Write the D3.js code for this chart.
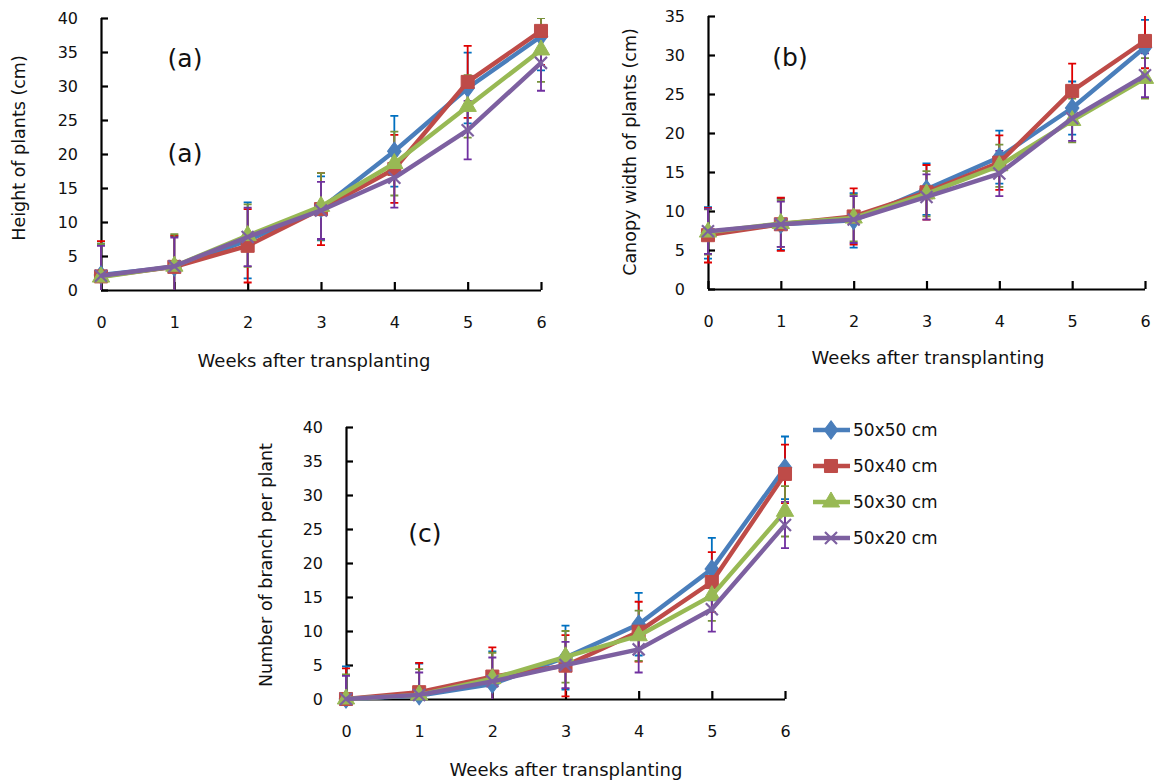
<!DOCTYPE html>
<html>
<head>
<meta charset="utf-8">
<script src="https://cdn.jsdelivr.net/npm/d3@7"></script>
<style>
  body { margin: 0; background: #fff; }
  svg text { font-family: "DejaVu Sans", sans-serif; fill: #111; }
</style>
</head>
<body>
<svg id="chart" width="1154" height="783"></svg>
<script>
const weeks = [0, 1, 2, 3, 4, 5, 6];
const seriesNames = ["50x50 cm", "50x40 cm", "50x30 cm", "50x20 cm"];

// (a) height of plants, cm
const heightMean = [
  [2.2, 3.4, 7.3, 12.0, 20.4, 29.7, 37.3],
  [2.0, 3.4, 6.5, 11.9, 17.8, 30.6, 38.1],
  [1.9, 3.5, 8.0, 12.3, 18.6, 27.0, 35.3],
  [2.1, 3.5, 7.8, 11.7, 16.5, 23.5, 33.4]
];
const heightSd = [
  [4.6, 4.5, 5.6, 4.7, 5.2, 5.2, 5.0],
  [5.2, 4.6, 5.4, 5.3, 5.0, 5.3, 5.0],
  [4.9, 4.7, 4.6, 4.9, 4.7, 4.6, 4.7],
  [4.4, 4.2, 4.3, 4.2, 4.4, 4.3, 4.1]
];

// (b) canopy width, cm
const canopyMean = [
  [7.2, 8.3, 8.8, 12.8, 16.9, 23.2, 31.0],
  [6.9, 8.3, 9.3, 12.4, 16.2, 25.4, 31.8],
  [7.3, 8.4, 9.1, 12.2, 15.8, 21.6, 27.0],
  [7.4, 8.3, 8.9, 11.8, 14.8, 21.9, 27.4]
];
const canopySd = [
  [3.3, 3.3, 3.5, 3.3, 3.4, 3.4, 3.5],
  [3.5, 3.4, 3.6, 3.5, 3.5, 3.5, 3.5],
  [2.9, 3.0, 3.0, 2.9, 2.7, 2.8, 2.6],
  [2.9, 2.9, 3.0, 2.9, 2.9, 2.9, 2.8]
];

// (c) number of branches per plant
const branchMean = [
  [0, 0.5, 2.2, 6.1, 11.0, 19.1, 34.0],
  [0, 1.0, 3.3, 4.9, 9.9, 17.2, 33.1],
  [0, 0.6, 3.0, 6.2, 9.3, 15.2, 27.6],
  [0, 0.6, 2.6, 5.0, 7.3, 13.2, 25.6]
];
const branchSd = [
  [4.8, 4.7, 4.8, 4.7, 4.6, 4.6, 4.6],
  [4.5, 4.3, 4.3, 4.5, 4.4, 4.4, 4.3],
  [3.6, 3.8, 3.8, 3.8, 3.7, 3.7, 3.7],
  [3.4, 3.3, 3.5, 3.4, 3.4, 3.3, 3.4]
];

const lineColors = ["#4a7ebb", "#be4b48", "#98b954", "#7d60a0"];
const errColors = ["#0070c0", "#e00000", "#77933c", "#7030a0"];
const markerTypes = [d3.symbolDiamond, d3.symbolSquare, d3.symbolTriangle, d3.symbolCross];

const svg = d3.select("#chart");

function drawMarker(g, i, x, y) {
  if (i === 3) {
    // Excel "x" marker
    const s = 6;
    g.append("path")
      .attr("d", `M${x - s},${y - s}L${x + s},${y + s}M${x - s},${y + s}L${x + s},${y - s}`)
      .style("stroke", lineColors[i])
      .style("stroke-width", 2.2)
      .style("fill", "none");
    return;
  }
  const sizes = [120, 170, 130];
  g.append("path")
    .attr("d", d3.symbol().type(markerTypes[i]).size(sizes[i])())
    .attr("transform", `translate(${x},${y})` + (i === 0 ? " scale(1.15,0.9)" : ""))
    .style("fill", lineColors[i])
    .style("stroke", lineColors[i])
    .style("stroke-width", 1);
}

function drawPanel(p) {
  const x = d3.scaleLinear().domain([0, 6]).range([p.left, p.right]);
  const y = d3.scaleLinear().domain([0, p.ymax]).range([p.bottom, p.top]);
  const g = svg.append("g");

  const clipId = "clip-" + p.id;
  g.append("clipPath").attr("id", clipId)
    .append("rect")
    .attr("x", p.left - 10).attr("y", p.top)
    .attr("width", p.right - p.left + 20).attr("height", p.bottom - p.top);

  // axes
  const yAxis = d3.axisLeft(y).tickValues(d3.range(0, p.ymax + 1, 5)).tickSize(-7).tickPadding(23);
  const xAxis = d3.axisBottom(x).tickValues(weeks).tickSize(-8).tickPadding(27).tickFormat(d3.format("d"));

  const ya = g.append("g").attr("transform", `translate(${p.left},0)`).call(yAxis);
  const xa = g.append("g").attr("transform", `translate(0,${p.bottom})`).call(xAxis);
  [ya, xa].forEach(a => {
    a.select(".domain").style("stroke", "#000").style("stroke-width", 2.2);
    a.selectAll(".tick line").style("stroke", "#000").style("stroke-width", 2.2);
    a.selectAll(".tick text").style("font-size", "16px").style("fill", "#111");
  });
  ya.select(".domain").attr("d", `M0.5,${p.top}V${p.bottom}`);
  xa.select(".domain").attr("d", `M${p.left},0.5H${p.right}`);

  // error bars
  const eb = g.append("g").attr("clip-path", `url(#${clipId})`);
  p.mean.forEach((m, i) => {
    m.forEach((v, k) => {
      const sd = p.sd[i][k];
      const cx = x(weeks[k]);
      const y1 = y(v + sd), y2 = y(v - sd);
      eb.append("path")
        .attr("d", `M${cx},${y1}V${y2}M${cx - 4},${y1}H${cx + 4}M${cx - 4},${y2}H${cx + 4}`)
        .style("stroke", errColors[i])
        .style("stroke-width", 1.8)
        .style("fill", "none");
    });
  });

  // lines and markers
  const line = d3.line().x((d, k) => x(weeks[k])).y(d => y(d));
  p.mean.forEach((m, i) => {
    g.append("path")
      .attr("d", line(m))
      .style("fill", "none")
      .style("stroke", lineColors[i])
      .style("stroke-width", 4.4)
      .style("stroke-linejoin", "round");
    m.forEach((v, k) => drawMarker(g, i, x(weeks[k]), y(v)));
  });

  // titles
  g.append("text")
    .attr("x", p.xTitle[0]).attr("y", p.xTitle[1])
    .attr("text-anchor", "middle")
    .attr("dy", "0.35em")
    .style("font-size", "18px")
    .text("Weeks after transplanting");
  g.append("text")
    .attr("transform", `translate(${p.yTitle[0]},${p.yTitle[1]}) rotate(-90)`)
    .attr("text-anchor", "middle")
    .attr("dy", "0.35em")
    .style("font-size", "17.5px")
    .text(p.yLabel);
  p.tags.forEach(t => {
    g.append("text")
      .attr("x", t[0]).attr("y", t[1])
      .attr("text-anchor", "middle")
      .attr("dy", "0.35em")
      .style("font-size", "25px")
      .text(t[2]);
  });
}

drawPanel({
  id: "a", mean: heightMean, sd: heightSd, ymax: 40,
  left: 101, right: 541, top: 18, bottom: 290,
  xTitle: [314, 361], yTitle: [19, 148], yLabel: "Height of plants (cm)",
  tags: [[185, 58, "(a)"], [185, 153, "(a)"]]
});
drawPanel({
  id: "b", mean: canopyMean, sd: canopySd, ymax: 35,
  left: 708, right: 1145, top: 16, bottom: 289,
  xTitle: [928, 358], yTitle: [630, 152], yLabel: "Canopy width of plants (cm)",
  tags: [[790, 57, "(b)"]]
});
drawPanel({
  id: "c", mean: branchMean, sd: branchSd, ymax: 40,
  left: 346, right: 785, top: 427, bottom: 699,
  xTitle: [566, 770], yTitle: [266, 565], yLabel: "Number of branch per plant",
  tags: [[425, 533, "(c)"]]
});

// legend
const legend = svg.append("g");
seriesNames.forEach((name, i) => {
  const ly = 430 + i * 36;
  legend.append("line")
    .attr("x1", 813).attr("x2", 850).attr("y1", ly).attr("y2", ly)
    .style("stroke", lineColors[i]).style("stroke-width", 4.4);
  drawMarker(legend, i, 831, ly);
  legend.append("text")
    .attr("x", 853).attr("y", ly).attr("dy", "0.35em")
    .style("font-size", "17px")
    .text(name);
});
</script>
</body>
</html>
